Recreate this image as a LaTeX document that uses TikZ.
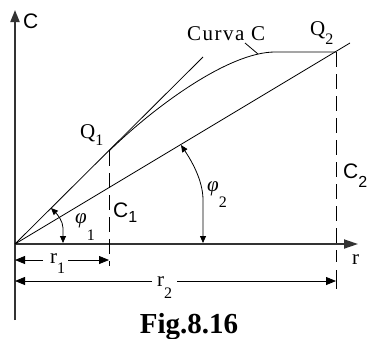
\documentclass[tikz,border=0pt]{standalone}
\usepackage{fontspec}
\setmainfont{Liberation Serif}
\newfontfamily\sansC{Liberation Sans}
\newfontfamily\wideserif[LetterSpace=7]{Liberation Serif}
\usetikzlibrary{arrows.meta}
\newcommand\lsub[2]{\raisebox{-#1pt}{\fontsize{16}{16}\selectfont #2}}
\begin{document}
\begin{tikzpicture}[x=1pt,y=-1pt,
  axisline/.style={line width=1.8pt,draw=black!80},
  thinline/.style={line width=0.8pt,draw=black},
  dashline/.style={line width=0.9pt,draw=black,dash pattern=on 15pt off 7pt},
  dimtip/.style={-{Triangle[length=10pt,width=8pt]}},
  angtip/.style={{Triangle[length=7pt,width=6pt]}-{Triangle[length=7pt,width=6pt]}},
  lbl/.style={inner sep=0pt,anchor=base west,font=\fontsize{21}{21}\selectfont},
  slbl/.style={inner sep=0pt,anchor=base west,font=\sansC\fontsize{21}{21}\selectfont}]
\useasboundingbox (0,0) rectangle (371,338);
% key points
\coordinate (O) at (15,244);
\coordinate (vtop) at (15,10);
\coordinate (vbot) at (15,320);
\coordinate (rend) at (358,244);
\coordinate (Q1) at (109,151);
\coordinate (Q2) at (336,52);
\coordinate (tanend) at (203,57);
\coordinate (chordend) at (350,43);
\coordinate (flat) at (275,52);
\coordinate (c1end) at (109,266);
\coordinate (c2end) at (336,262);
% axes
\draw[axisline,-{Triangle[length=12pt,width=9pt]}] (vbot) -- (vtop);
\draw[axisline,-{Triangle[length=14pt,width=9pt]}] (O) -- (rend);
% tangent, chord, curve
\draw[thinline] (O) -- (tanend);
\draw[thinline] (O) -- (chordend);
\draw[thinline] (Q1) .. controls (153,108) and (228,52) .. (flat) -- (Q2);
% dashed ordinates
\draw[dashline] (Q1) -- (c1end);
\draw[dashline] (Q2) -- (c2end);
% r1 dimension
\coordinate (r1a) at (15,260);
\coordinate (r1b) at (43,260);
\coordinate (r1c) at (68,260);
\coordinate (r1d) at (109,260);
\draw[thinline,dimtip] (r1b) -- (r1a);
\draw[thinline,dimtip] (r1c) -- (r1d);
% r2 dimension
\coordinate (r2a) at (15,281);
\coordinate (r2b) at (152,281);
\coordinate (r2c) at (177,281);
\coordinate (r2d) at (336,281);
\coordinate (bar2t) at (336,270);
\coordinate (bar2b) at (336,289);
\draw[thinline] (bar2t) -- (bar2b);
\draw[thinline,dimtip] (r2b) -- (r2a);
\draw[thinline,dimtip] (r2c) -- (r2d);
% angle arrows
\coordinate (p1a) at (51,208);
\coordinate (p1b) at (63,228);
\coordinate (p1c) at (63,243);
\draw[thinline,angtip] (p1a) .. controls (57,214) and (63,221) .. (p1b) -- (p1c);
\coordinate (p2a) at (181,145);
\coordinate (p2b) at (203,200);
\coordinate (p2c) at (203,243);
\draw[thinline,angtip] (p2a) .. controls (191,160) and (203,180) .. (p2b) -- (p2c);
% curve label leader
\coordinate (lead1) at (245,43);
\coordinate (lead2) at (258,54);
\draw[thinline] (lead1) -- (lead2);
% labels
\node[slbl] (lC) at (23,28) {C};
\node[lbl,font=\wideserif\fontsize{21}{21}\selectfont] (lcurva) at (187,40) {Curva C};
\node[lbl] (lQ1) at (80,138) {Q\lsub{7}{1}};
\node[lbl] (lQ2) at (310,35) {Q\lsub{9}{2}};
\node[slbl] (lC1) at (113,217) {C\lsub{5}{1}};
\node[slbl] (lC2) at (343,178) {C\lsub{9}{2}};
\node[lbl] (lphi1) at (75,223) {\itshape φ\lsub{17}{\upshape 1}};
\node[lbl] (lphi2) at (207,191) {\itshape φ\lsub{16}{\upshape 2}};
\node[lbl] (lr1) at (50,263) {r\lsub{10}{1}};
\node[lbl] (lr2) at (157,286) {r\lsub{12}{2}};
\node[lbl] (lr) at (352,264) {r};
\node[inner sep=0pt,anchor=base,font=\bfseries\fontsize{29}{29}\selectfont] (fig) at (189,333) {Fig.8.16};
\end{tikzpicture}
\end{document}
